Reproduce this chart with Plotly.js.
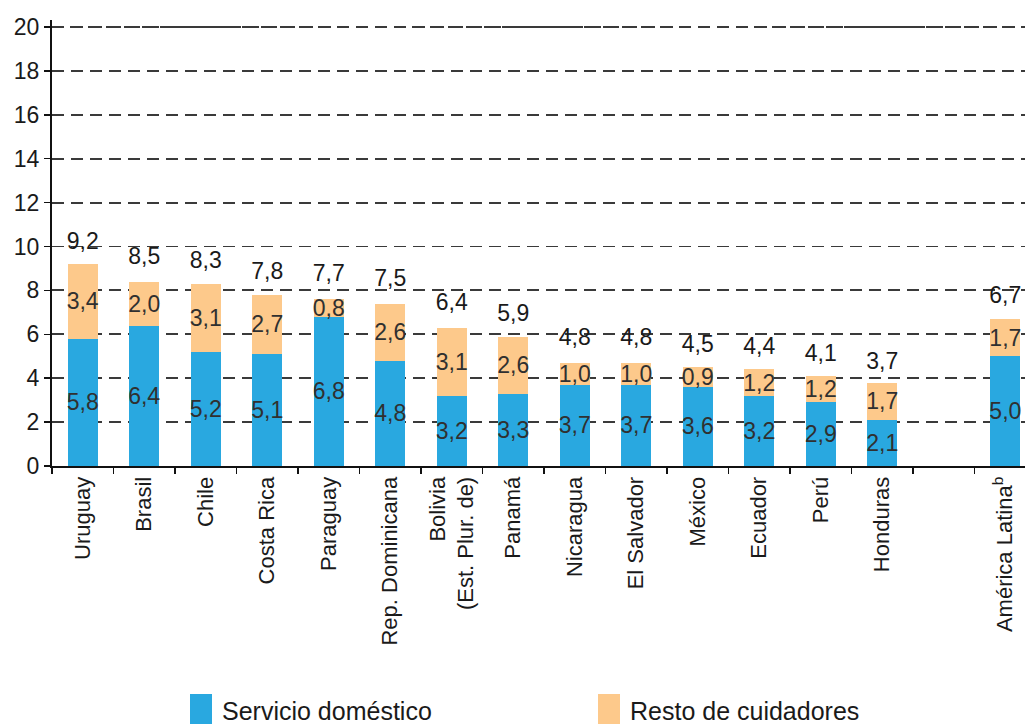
<!DOCTYPE html>
<html>
<head>
<meta charset="utf-8">
<script src="https://cdn.plot.ly/plotly-3.0.1.min.js"></script>
<style>
html,body{margin:0;padding:0;background:#fff;}
#chart{width:1025px;height:724px;}
</style>
</head>
<body>
<div id="chart"></div>
<script>
var categories = ["Uruguay","Brasil","Chile","Costa Rica","Paraguay","Rep. Dominicana","Bolivia<br>(Est. Plur. de)","Panamá","Nicaragua","El Salvador","México","Ecuador","Perú","Honduras"," ","América Latina<sup>b</sup>"];
var servicioDomestico = [5.8,6.4,5.2,5.1,6.8,4.8,3.2,3.3,3.7,3.7,3.6,3.2,2.9,2.1,null,5.0];
var restoCuidadores = [3.4,2.0,3.1,2.7,0.8,2.6,3.1,2.6,1.0,1.0,0.9,1.2,1.2,1.7,null,1.7];
var totales = [9.2,8.5,8.3,7.8,7.7,7.5,6.4,5.9,4.8,4.8,4.5,4.4,4.1,3.7,null,6.7];
var seriesNames = ["Servicio doméstico","Resto de cuidadores"];
var seriesColors = ["#29a8e0","#fdc98b"];
var yTicks = [0,2,4,6,8,10,12,14,16,18,20];

var font = "Liberation Sans, Arial, sans-serif";
var txtFont = {family: font, size: 23, color: "#303030"};
var gridStyle = {color:"#3a3a3a", width:1.8, dash:"12px,7px"};

var traces = [
  {type:"bar", x:categories, y:servicioDomestico, name:seriesNames[0],
   marker:{color:seriesColors[0]}, texttemplate:"%{y:.1f}", textposition:"inside",
   insidetextanchor:"middle", textangle:0, constraintext:"none", textfont:txtFont,
   hoverinfo:"skip", showlegend:false},
  {type:"bar", x:categories, y:restoCuidadores, name:seriesNames[1],
   marker:{color:seriesColors[1]}, texttemplate:"%{y:.1f}", textposition:"inside",
   insidetextanchor:"middle", textangle:0, constraintext:"none", textfont:txtFont,
   hoverinfo:"skip", showlegend:false},
  {type:"scatter", mode:"markers+text", x:categories, y:totales, texttemplate:"%{y:.1f}",
   marker:{size:14, opacity:0}, textposition:"top center",
   textfont:{family:font, size:23, color:"#1a1a1a"},
   hoverinfo:"skip", showlegend:false, cliponaxis:false}
];

var plotL = 52, plotW = 1025-52, plotT = 20, plotH = 466-20;
var yMax = 20 * plotH / 439;
function px(x){ return (x-plotL)/plotW; }
function py(y){ return (plotT+plotH-y)/plotH; }
var legendX = [190, 598];
var shapes = [], annotations = [];
shapes.push({type:"line", xref:"paper", yref:"y", x0:0, x1:1,
  y0:yTicks[yTicks.length-1], y1:yTicks[yTicks.length-1], layer:"above",
  line:{color:gridStyle.color, width:gridStyle.width, dash:"dash"}});
for (var i=0;i<seriesNames.length;i++){
  shapes.push({type:"rect", xref:"paper", yref:"paper",
    x0:px(legendX[i]), x1:px(legendX[i]+22), y0:py(726), y1:py(694),
    fillcolor:seriesColors[i], line:{width:0}});
  annotations.push({xref:"paper", yref:"paper", x:px(legendX[i]+30), y:py(711),
    xanchor:"left", yanchor:"middle", showarrow:false, text:seriesNames[i],
    font:{family:font, size:25, color:"#1a1a1a"}});
}

var layout = {
  width:1025, height:724,
  margin:{l:52, r:0, t:plotT, b:258},
  paper_bgcolor:"#fff", plot_bgcolor:"#fff",
  separators:",.",
  barmode:"stack", bargap:0.51,
  font:{family:font, size:22, color:"#1a1a1a"},
  xaxis:{type:"category", categoryorder:"array", categoryarray:categories,
    range:[-0.5, 15.32], tickangle:-90, tickson:"boundaries", ticks:"outside",
    ticklen:6, tickwidth:1.5, tickcolor:"#111", showline:true, linecolor:"#111",
    linewidth:2, showgrid:false, tickfont:{family:font, size:22, color:"#1a1a1a"},
    fixedrange:true},
  yaxis:{range:[0,yMax], tickvals:yTicks, ticks:"outside", ticklen:6, tickwidth:1.5,
    tickcolor:"#111", showline:true, linecolor:"#111", linewidth:2, mirror:false,
    showgrid:true, gridcolor:gridStyle.color, gridwidth:gridStyle.width, griddash:gridStyle.dash,
    zeroline:false, tickfont:{family:font, size:23, color:"#1a1a1a"}, fixedrange:true},
  shapes:shapes, annotations:annotations
};

Plotly.newPlot("chart", traces, layout, {displayModeBar:false, staticPlot:true});
</script>
</body>
</html>
